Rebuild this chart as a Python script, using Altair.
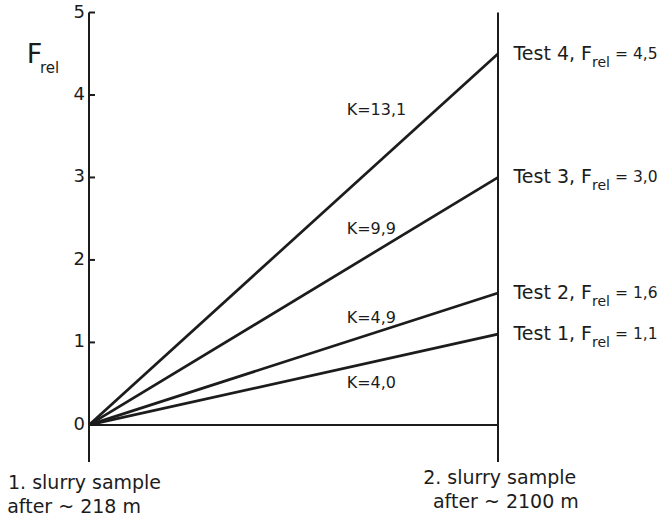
import altair as alt
import pandas as pd

# ---- values ----
tests = ["Test 1", "Test 2", "Test 3", "Test 4"]
f_rel = [1.1, 1.6, 3.0, 4.5]
f_text = ["1,1", "1,6", "3,0", "4,5"]
k_text = ["K=4,0", "K=4,9", "K=9,9", "K=13,1"]
k_label_y = [0.51, 1.30, 2.38, 3.82]
y_ticks = [0, 1, 2, 3, 4, 5]
sample_1 = ["1. slurry sample", "after ~ 218 m"]
sample_2 = ["2. slurry sample", "after ~ 2100 m"]

FONT = "DejaVu Sans"
INK = "#1c1c1c"
X_SCALE = alt.Scale(domain=[0, 1], nice=False, zero=False)
Y_SCALE = alt.Scale(domain=[-0.45, 5], nice=False, zero=False)


def X(field=None, datum=None):
    if datum is not None:
        return alt.XDatum(datum, type="quantitative", scale=X_SCALE, axis=None)
    return alt.X(field, type="quantitative", scale=X_SCALE, axis=None)


def Y(field=None, datum=None):
    if datum is not None:
        return alt.YDatum(datum, type="quantitative", scale=Y_SCALE, axis=None)
    return alt.Y(field, type="quantitative", scale=Y_SCALE, axis=None)


one = pd.DataFrame({"_": [0]})

# lines from sample 1 (F=0) to sample 2 (F=f_rel)
rows = []
for t, f in zip(tests, f_rel):
    rows.append({"test": t, "pos": 0.0, "F": 0.0})
    rows.append({"test": t, "pos": 1.0, "F": f})
lines_df = pd.DataFrame(rows)

lines = alt.Chart(lines_df).mark_line(color=INK, strokeWidth=2.7).encode(
    x=X("pos"), y=Y("F"), detail="test:N"
)

# frame: two verticals and the zero line
left_v = alt.Chart(one).mark_rule(color=INK, strokeWidth=2).encode(
    x=X(datum=0), y=Y(datum=-0.45), y2=alt.Y2Datum(5)
)
right_v = alt.Chart(one).mark_rule(color=INK, strokeWidth=2).encode(
    x=X(datum=1), y=Y(datum=-0.45), y2=alt.Y2Datum(5)
)
zero_h = alt.Chart(one).mark_rule(color=INK, strokeWidth=2).encode(
    x=X(datum=0), x2=alt.X2Datum(1), y=Y(datum=0)
)

# y ticks pointing inward + their labels
ticks_df = pd.DataFrame({"v": y_ticks, "lab": [str(v) for v in y_ticks]})
ticks = alt.Chart(ticks_df).mark_rule(color=INK, strokeWidth=2).encode(
    x=alt.value(0), x2=alt.value(6), y=Y("v")
)
tick_labels = alt.Chart(ticks_df).mark_text(
    align="right", baseline="middle", dx=-4, fontSize=18, font=FONT, color=INK
).encode(x=X(datum=0), y=Y("v"), text="lab:N")

# right-hand labels "Test n, F_rel = v"
tests_df = pd.DataFrame(
    {
        "F": f_rel,
        "main": [f"{t}, F" for t in tests],
        "sub": ["rel"] * len(tests),
        "tail": [f"= {v}" for v in f_text],
    }
)
t_main = alt.Chart(tests_df).mark_text(
    align="right", baseline="middle", dx=94, fontSize=19, font=FONT, color=INK
).encode(x=X(datum=1), y=Y("F"), text="main:N")
t_sub = alt.Chart(tests_df).mark_text(
    align="left", baseline="middle", dx=94, dy=9, fontSize=14, font=FONT, color=INK
).encode(x=X(datum=1), y=Y("F"), text="sub:N")
t_tail = alt.Chart(tests_df).mark_text(
    align="left", baseline="middle", dx=117, fontSize=15.5, font=FONT, color=INK
).encode(x=X(datum=1), y=Y("F"), text="tail:N")

# K labels
k_df = pd.DataFrame({"k": k_text, "ky": k_label_y})
k_labels = alt.Chart(k_df).mark_text(
    align="left", baseline="middle", fontSize=16, font=FONT, color=INK
).encode(x=X(datum=0.63), y=Y("ky"), text="k:N")

# y title F_rel
f_big = alt.Chart(one).mark_text(
    align="left", baseline="middle", fontSize=27, font=FONT, color=INK, text="F"
).encode(x=X(datum=-0.152), y=Y(datum=4.48))
f_small = alt.Chart(one).mark_text(
    align="left", baseline="middle", fontSize=15, font=FONT, color=INK, text="rel"
).encode(x=X(datum=-0.12), y=Y(datum=4.33))

# bottom labels under the two samples
bottom_df = pd.DataFrame(
    {
        "txt": sample_1 + sample_2,
        "bx": [-0.198, -0.2, 0.817, 0.841],
        "by": [-0.703, -0.994, -0.642, -0.933],
    }
)
bottom = alt.Chart(bottom_df).mark_text(
    align="left", baseline="middle", fontSize=19, font=FONT, color=INK
).encode(x=X("bx"), y=Y("by"), text="txt:N")

chart = (
    alt.layer(
        ticks, tick_labels, left_v, right_v, zero_h, lines,
        t_main, t_sub, t_tail, k_labels, f_big, f_small, bottom,
    )
    .properties(
        width=409,
        height=449.5,
        autosize=alt.AutoSizeParams(type="none"),
        padding={"left": 89, "top": 12.5, "right": 162, "bottom": 56},
        background="white",
    )
    .configure_view(stroke=None)
)

chart.save("out.html", embed_options={"renderer": "svg", "actions": False})
